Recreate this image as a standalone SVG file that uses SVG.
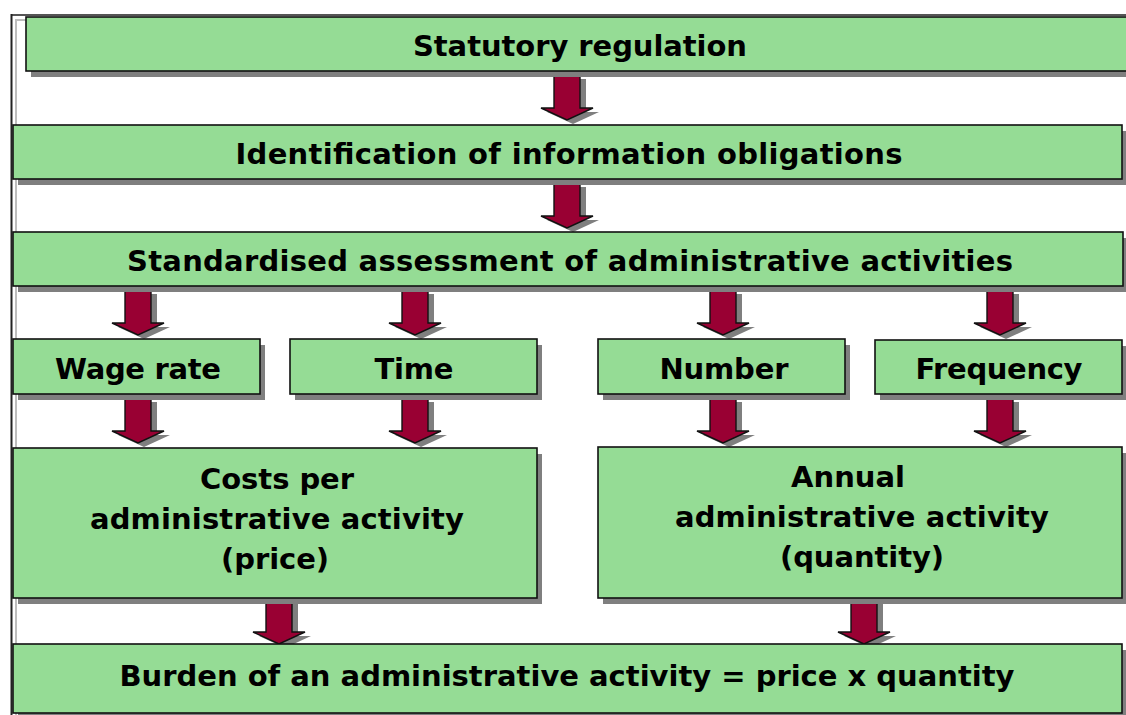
<svg xmlns="http://www.w3.org/2000/svg" width="1126" height="715" viewBox="0 0 1126 715">
  <defs>
    <style>
      .box { fill: #95dc95; stroke: #111; stroke-width: 1.6; }
      .shadow { fill: #7f7f7f; }
      .lbl { font-family: "DejaVu Sans", "Liberation Sans", sans-serif; font-weight: bold; font-size: 29px; fill: #000; text-anchor: middle; }
      .arrow { fill: #990033; stroke: #111; stroke-width: 1.4; stroke-linejoin: miter; }
      .ashadow { fill: #7f7f7f; }
    </style>
    <!-- block arrow pointing down, origin at top centre of the shaft, 45 px long -->
    <path id="arr" d="M -13 0 L 13 0 L 13 33 L 26 33 L 0 45 L -26 33 L -13 33 Z"/>
  </defs>

  <rect width="1126" height="715" fill="#fff"/>

  <!-- page frame -->
  <g id="frame">
    <polyline points="26,20 16,20 16,715" fill="none" stroke="#bdbdbd" stroke-width="2"/>
    <line x1="11" y1="15" x2="1126" y2="15" stroke="#555" stroke-width="2"/>
    <line x1="11.5" y1="14" x2="11.5" y2="715" stroke="#222" stroke-width="2"/>
  </g>

  <!-- connectors -->
  <g id="connectors">
    <g class="ashadow">
      <use href="#arr" x="573" y="79"/>
      <use href="#arr" x="573" y="187"/>
      <use href="#arr" x="144" y="294"/>
      <use href="#arr" x="421" y="294"/>
      <use href="#arr" x="729" y="294"/>
      <use href="#arr" x="1006" y="294"/>
      <use href="#arr" x="144" y="402"/>
      <use href="#arr" x="421" y="402"/>
      <use href="#arr" x="729" y="402"/>
      <use href="#arr" x="1006" y="402"/>
      <use href="#arr" x="285" y="603"/>
      <use href="#arr" x="870" y="603"/>
    </g>
    <g class="arrow">
      <use href="#arr" x="567" y="75"/>
      <use href="#arr" x="567" y="183"/>
      <use href="#arr" x="138" y="290"/>
      <use href="#arr" x="415" y="290"/>
      <use href="#arr" x="723" y="290"/>
      <use href="#arr" x="1000" y="290"/>
      <use href="#arr" x="138" y="398"/>
      <use href="#arr" x="415" y="398"/>
      <use href="#arr" x="723" y="398"/>
      <use href="#arr" x="1000" y="398"/>
      <use href="#arr" x="279" y="599"/>
      <use href="#arr" x="864" y="599"/>
    </g>
  </g>

  <g id="statutory">
    <rect class="shadow" x="31" y="23" width="1110" height="54"/>
    <rect class="box" x="26" y="17" width="1110" height="54"/>
    <text class="lbl" x="580" y="56" textLength="334">Statutory regulation</text>
  </g>

  <g id="identification">
    <rect class="shadow" x="18" y="131" width="1109" height="54"/>
    <rect class="box" x="13" y="125" width="1109" height="54"/>
    <text class="lbl" x="569" y="164" textLength="667">Identification of information obligations</text>
  </g>

  <g id="assessment">
    <rect class="shadow" x="18" y="238" width="1110" height="54"/>
    <rect class="box" x="13" y="232" width="1110" height="54"/>
    <text class="lbl" x="570" y="271" textLength="886">Standardised assessment of administrative activities</text>
  </g>

  <g id="wage-rate">
    <rect class="shadow" x="18" y="345" width="247" height="55"/>
    <rect class="box" x="13" y="339" width="247" height="55"/>
    <text class="lbl" x="138" y="379" textLength="166">Wage rate</text>
  </g>

  <g id="time">
    <rect class="shadow" x="295" y="345" width="247" height="55"/>
    <rect class="box" x="290" y="339" width="247" height="55"/>
    <text class="lbl" x="414" y="379" textLength="79">Time</text>
  </g>

  <g id="number">
    <rect class="shadow" x="603" y="345" width="247" height="55"/>
    <rect class="box" x="598" y="339" width="247" height="55"/>
    <text class="lbl" x="724" y="379" textLength="129">Number</text>
  </g>

  <g id="frequency">
    <rect class="shadow" x="880" y="346" width="247" height="54"/>
    <rect class="box" x="875" y="340" width="247" height="54"/>
    <text class="lbl" x="999" y="379" textLength="167">Frequency</text>
  </g>

  <g id="price">
    <rect class="shadow" x="18" y="454" width="524" height="150"/>
    <rect class="box" x="13" y="448" width="524" height="150"/>
    <text class="lbl" x="277" y="489" textLength="154">Costs per</text>
    <text class="lbl" x="277" y="529" textLength="374">administrative activity</text>
    <text class="lbl" x="275" y="569" textLength="108">(price)</text>
  </g>

  <g id="quantity">
    <rect class="shadow" x="603" y="453" width="524" height="151"/>
    <rect class="box" x="598" y="447" width="524" height="151"/>
    <text class="lbl" x="848" y="487">Annual</text>
    <text class="lbl" x="862" y="527" textLength="374">administrative activity</text>
    <text class="lbl" x="862" y="567" textLength="164">(quantity)</text>
  </g>

  <g id="burden">
    <rect class="shadow" x="18" y="650" width="1109" height="69"/>
    <rect class="box" x="13" y="644" width="1109" height="69"/>
    <text class="lbl" x="567" y="686" textLength="895">Burden of an administrative activity = price x quantity</text>
  </g>
</svg>
